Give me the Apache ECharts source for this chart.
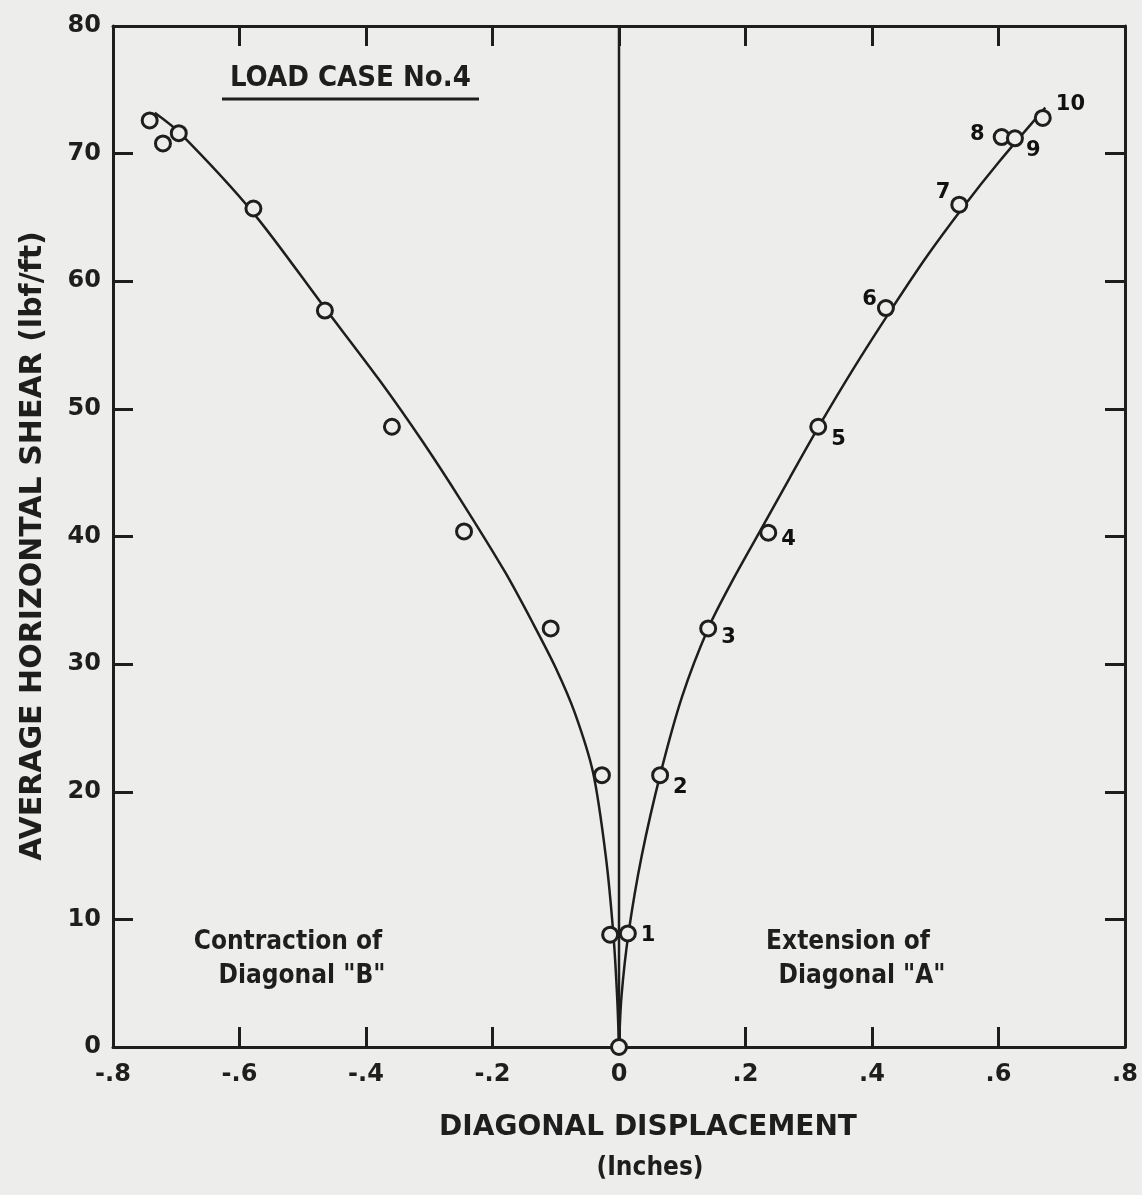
<!DOCTYPE html>
<html>
<head>
<meta charset="utf-8">
<script src="https://cdn.jsdelivr.net/npm/echarts@6/dist/echarts.min.js"></script>
<style>
  html, body { margin: 0; padding: 0; background: #ededeb; }
  #container { width: 1142px; height: 1195px; }
</style>
</head>
<body>
<div id="container"></div>
<script>
// measured points, contraction of diagonal "B"
var leftPts = [[-0.742, 72.6], [-0.721, 70.8], [-0.696, 71.6], [-0.578, 65.7], [-0.465, 57.7],
               [-0.359, 48.6], [-0.245, 40.4], [-0.108, 32.8], [-0.027, 21.3], [-0.014, 8.8]];
// measured points, extension of diagonal "A"
var rightPts = [[0, 0], [0.014, 8.9], [0.065, 21.3], [0.141, 32.8], [0.236, 40.3], [0.315, 48.6],
                [0.422, 57.9], [0.538, 66.0], [0.605, 71.3], [0.626, 71.2], [0.670, 72.8]];
var ptNums = ['', '1', '2', '3', '4', '5', '6', '7', '8', '9', '10'];
// fitted curves
var leftCurve = [[0, 0], [-0.003, 4], [-0.009, 8.9], [-0.021, 15], [-0.041, 21.5], [-0.07, 26.2],
                 [-0.1, 29.7], [-0.135, 33.1], [-0.18, 37.2], [-0.247, 42.6], [-0.31, 47.4],
                 [-0.378, 52.2], [-0.465, 57.9], [-0.579, 65.4], [-0.694, 71.6], [-0.734, 73.2]];
var rightCurve = [[0, 0], [0.004, 4], [0.015, 8.9], [0.036, 15], [0.066, 21.5], [0.1, 27.5],
                  [0.141, 32.8], [0.18, 36.6], [0.225, 40.6], [0.27, 44.6], [0.318, 48.8],
                  [0.37, 53.1], [0.428, 57.6], [0.486, 61.9], [0.544, 65.8], [0.6, 69.3],
                  [0.674, 73.6]];

var ink = '#1e1e1e';
var bg = '#ededeb';
var cond = 'DejaVu Sans Condensed';

// where each point number sits
var numPos = [
  null,
  {position: 'right', offset: [0, 2]},
  {position: 'right', offset: [0, 12]},
  {position: 'right', offset: [0, 9]},
  {position: 'right', offset: [0, 7]},
  {position: 'right', offset: [0, 13]},
  {position: 'left', offset: [4, -9]},
  {position: 'left', offset: [4, -12]},
  {position: 'left', offset: [-4, -2]},
  {position: 'right', offset: [-2, 12]},
  {position: 'right', offset: [0, -13]}
];

var rightData = rightPts.map(function (p, i) {
  var item = {value: p};
  if (ptNums[i]) {
    item.label = {
      show: true, formatter: ptNums[i], position: numPos[i].position, offset: numPos[i].offset,
      distance: 4, color: '#111', fontFamily: 'DejaVu Sans', fontWeight: 'bold', fontSize: 21
    };
  }
  return item;
});

function fmtX(v) {
  if (Math.abs(v) < 1e-9) return '0';
  var s = Math.abs(v).toFixed(1).replace(/^0/, '');
  return (v < 0 ? '-' : '') + s;
}

var markerStyle = {color: bg, borderColor: ink, borderWidth: 3, opacity: 1};
var tickStyle = {show: true, inside: true, length: 20, lineStyle: {color: ink, width: 3}};
var lineAxis = {show: true, onZero: false, lineStyle: {color: ink, width: 3}};

var myChart = echarts.init(document.getElementById('container'));
var option = {
  backgroundColor: bg,
  animation: false,
  grid: {left: 113, right: 17, top: 26, bottom: 148},
  xAxis: [{
    type: 'value', min: -0.8, max: 0.8, interval: 0.2,
    axisLine: lineAxis, axisTick: tickStyle, splitLine: {show: false},
    axisLabel: {color: ink, fontFamily: 'DejaVu Sans', fontWeight: 'bold', fontSize: 24, margin: 16,
                formatter: fmtX}
  }, {
    type: 'value', min: -0.8, max: 0.8, interval: 0.2, position: 'top',
    axisLine: lineAxis, axisTick: tickStyle, splitLine: {show: false}, axisLabel: {show: false}
  }],
  yAxis: [{
    type: 'value', min: 0, max: 80, interval: 10,
    axisLine: lineAxis, axisTick: tickStyle, splitLine: {show: false},
    axisLabel: {color: ink, fontFamily: 'DejaVu Sans', fontWeight: 'bold', fontSize: 24, margin: 12}
  }, {
    type: 'value', min: 0, max: 80, interval: 10, position: 'right',
    axisLine: lineAxis, axisTick: tickStyle, splitLine: {show: false}, axisLabel: {show: false}
  }],
  series: [{
    // zero line
    type: 'line', data: [[0, 0], [0, 80]], symbol: 'none',
    lineStyle: {color: ink, width: 2.5}
  }, {
    type: 'line', data: leftCurve, smooth: 0.3, symbol: 'none',
    lineStyle: {color: ink, width: 2.5}
  }, {
    type: 'line', data: rightCurve, smooth: 0.3, symbol: 'none',
    lineStyle: {color: ink, width: 2.5}
  }, {
    type: 'scatter', data: leftPts, symbol: 'circle', symbolSize: 15,
    itemStyle: markerStyle, z: 5
  }, {
    type: 'scatter', data: rightData, symbol: 'circle', symbolSize: 15,
    itemStyle: markerStyle, z: 5
  }],
  graphic: [
    {type: 'text', left: 230, top: 64, style: {text: 'LOAD CASE No.4', fill: ink,
      font: 'bold 29px "' + cond + '"'}},
    {type: 'line', shape: {x1: 222, y1: 99, x2: 479, y2: 99}, style: {stroke: ink, lineWidth: 3}},
    {type: 'text', x: 288, y: 942, style: {text: 'Contraction of', fill: ink, align: 'center',
      verticalAlign: 'middle', font: 'bold 26px "' + cond + '"'}},
    {type: 'text', x: 302, y: 976, style: {text: 'Diagonal "B"', fill: ink, align: 'center',
      verticalAlign: 'middle', font: 'bold 26px "' + cond + '"'}},
    {type: 'text', x: 848, y: 942, style: {text: 'Extension of', fill: ink, align: 'center',
      verticalAlign: 'middle', font: 'bold 26px "' + cond + '"'}},
    {type: 'text', x: 862, y: 976, style: {text: 'Diagonal "A"', fill: ink, align: 'center',
      verticalAlign: 'middle', font: 'bold 26px "' + cond + '"'}},
    {type: 'text', x: 648, y: 1128, style: {text: 'DIAGONAL DISPLACEMENT', fill: ink, align: 'center',
      verticalAlign: 'middle', font: 'bold 28px "DejaVu Sans"'}},
    {type: 'text', x: 650, y: 1168, style: {text: '(Inches)', fill: ink, align: 'center',
      verticalAlign: 'middle', font: 'bold 26px "' + cond + '"'}},
    {type: 'text', x: 33, y: 546, rotation: Math.PI / 2, style: {text: 'AVERAGE HORIZONTAL SHEAR (lbf/ft)',
      fill: ink, align: 'center', verticalAlign: 'middle', font: 'bold 30px "DejaVu Sans"'}}
  ]
};
myChart.setOption(option);
</script>
</body>
</html>
